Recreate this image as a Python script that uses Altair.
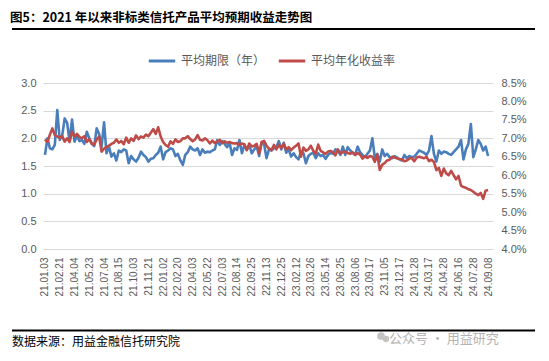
import altair as alt
import pandas as pd

# ---- data ----
tick_labels = ["21.01.03", "21.02.21", "21.04.04", "21.05.23", "21.07.04", "21.08.15",
               "21.10.03", "21.11.21", "22.01.02", "22.02.20", "22.04.03", "22.05.22",
               "22.07.03", "22.08.14", "22.09.25", "22.11.13", "22.12.25", "23.02.12",
               "23.03.26", "23.05.14", "23.06.25", "23.08.06", "23.09.17", "23.11.05",
               "23.12.17", "24.01.28", "24.03.17", "24.04.28", "24.06.16", "24.07.28",
               "24.09.08"]

term_years = [
    1.70, 2.00, 1.82, 1.80, 1.88, 2.51, 1.97, 2.05, 2.36, 2.28,
    1.95, 2.34, 1.94, 2.05, 1.95, 1.97, 1.90, 2.12, 2.00, 1.90,
    1.86, 2.18, 2.08, 1.85, 2.29, 1.73, 1.85, 1.67, 1.73, 1.60,
    1.78, 1.75, 1.80, 1.78, 1.55, 1.68, 1.62, 1.58, 1.65, 1.76,
    1.70, 1.66, 1.58, 1.63, 1.64, 1.70, 1.74, 1.85, 1.62, 1.75,
    1.78, 1.82, 1.80, 1.68, 1.72, 1.60, 1.52, 1.70, 1.75, 1.85,
    1.80, 1.78, 1.82, 1.70, 1.80, 1.74, 1.76, 1.75, 1.78, 1.80,
    1.97, 1.88, 1.95, 1.90, 1.84, 1.92, 1.70, 1.82, 1.79, 1.97,
    1.73, 1.88, 1.79, 1.88, 1.73, 1.80, 1.86, 1.68, 1.92, 1.90,
    1.64, 1.80, 1.78, 1.82, 1.84, 1.95, 1.80, 1.92, 1.74, 1.80,
    1.67, 1.73, 1.66, 1.62, 1.76, 1.73, 1.55, 1.68, 1.72, 1.74,
    1.64, 1.73, 1.68, 1.70, 1.63, 1.70, 1.74, 1.72, 1.80, 1.78,
    1.70, 1.85, 1.70, 1.84, 1.78, 1.74, 1.70, 1.85, 1.75, 1.70,
    1.66, 1.72, 1.78, 2.00, 1.65, 1.72, 1.58, 1.80, 1.68, 1.72,
    1.66, 1.64, 1.68, 1.65, 1.62, 1.60, 1.70, 1.64, 1.68, 1.66,
    1.67, 1.72, 1.78, 1.76, 1.74, 1.70, 1.78, 2.04, 1.72, 1.58,
    1.78, 1.72, 1.76, 1.75, 1.72, 1.70, 1.75, 1.80, 1.85, 1.97,
    1.62, 1.80, 1.90, 2.26, 1.66, 1.80, 1.97, 1.90, 1.78, 1.85,
    1.68,
]

yield_pct = [
    6.97, 6.90, 7.10, 7.27, 7.09, 7.05, 7.02, 7.06, 6.91, 7.00,
    6.90, 7.18, 7.05, 7.12, 7.04, 7.00, 7.06, 6.90, 6.98, 6.86,
    6.83, 6.97, 7.05, 6.64, 6.72, 6.76, 6.80, 6.85, 6.88, 6.97,
    6.88, 6.93, 6.84, 7.02, 6.88, 7.00, 6.93, 7.08, 6.98, 7.05,
    7.02, 7.10, 7.06, 7.15, 7.25, 7.12, 7.30, 7.05, 6.90, 6.82,
    6.77, 6.92, 6.85, 6.97, 6.90, 6.92, 7.00, 7.00, 7.06, 6.98,
    6.92, 6.97, 7.09, 6.96, 6.94, 7.00, 6.95, 6.86, 6.94, 6.87,
    6.92, 6.96, 6.87, 6.92, 6.88, 6.90, 6.87, 6.86, 6.87, 6.82,
    6.86, 6.84, 6.68, 6.86, 6.78, 6.80, 6.85, 6.59, 6.90, 6.93,
    6.80, 6.72, 6.68, 6.82, 6.70, 6.82, 6.74, 6.85, 6.70, 6.76,
    6.68, 6.75, 6.80, 6.86, 6.50, 6.75, 6.66, 6.70, 6.80, 6.66,
    6.58, 6.83, 6.66, 6.62, 6.58, 6.64, 6.66, 6.62, 6.54, 6.70,
    6.59, 6.62, 6.64, 6.60, 6.58, 6.62, 6.55, 6.60, 6.56, 6.45,
    6.52, 6.47, 6.52, 6.50, 6.36, 6.56, 6.14, 6.28, 6.33, 6.40,
    6.42, 6.50, 6.48, 6.46, 6.44, 6.43, 6.38, 6.40, 6.45, 6.47,
    6.38, 6.48, 6.50, 6.48, 6.46, 6.50, 6.38, 6.42, 6.36, 6.14,
    6.20, 5.98, 6.18, 6.05, 6.00, 6.12, 6.00, 5.89, 5.98, 5.72,
    5.68, 5.66, 5.62, 5.60, 5.55, 5.50, 5.46, 5.52, 5.36, 5.58,
    5.60,
]

series_names = ["平均期限（年）", "平均年化收益率"]
series_colors = ["#4A7EBB", "#BE4B48"]
title_text = "图5：2021 年以来非标类信托产品平均预期收益走势图"
source_text = "数据来源：用益金融信托研究院"
watermark_text = "公众号 · 用益研究"

left_ticks = [0.0, 0.5, 1.0, 1.5, 2.0, 2.5, 3.0]
right_ticks = [4.0, 4.5, 5.0, 5.5, 6.0, 6.5, 7.0, 7.5, 8.0, 8.5]
label_step = 6

# ---- build tables ----
n = len(term_years)
df_term = pd.DataFrame({"idx": list(range(n)), "v": term_years, "series": series_names[0]})
df_yield = pd.DataFrame({"idx": list(range(len(yield_pct))), "v": yield_pct, "series": series_names[1]})

FONT = "Noto Sans CJK SC"
GREY = "#595959"

label_arr = "[" + ",".join("'" + s + "'" for s in tick_labels) + "]"
x_values = [i * label_step for i in range(len(tick_labels))]

xscale = alt.Scale(domain=[-0.8, 182.0], nice=False, zero=False)
color_scale = alt.Scale(domain=series_names, range=series_colors)

x_axis = alt.Axis(values=x_values, labelExpr=label_arr + "[round(datum.value/" + str(label_step) + ")]",
                  labelAngle=270, labelAlign="right", labelBaseline="middle",
                  labelPadding=8, labelFontSize=10, labelColor=GREY, labelFont="Liberation Sans",
                  ticks=False, domain=False, grid=False, labelOverlap=False, labelFlush=False,
                  labelBound=False)

left = alt.Chart(df_term).mark_line(strokeWidth=2.6, strokeJoin="round").encode(
    x=alt.X("idx:Q", scale=xscale, title=None, axis=x_axis),
    y=alt.Y("v:Q", scale=alt.Scale(domain=[0, 3], nice=False), title=None,
            axis=alt.Axis(values=left_ticks, format=".1f", grid=True, gridColor="#D9D9D9",
                          gridWidth=1, domain=False, ticks=False, labelPadding=7,
                          labelFontSize=11, labelColor=GREY, labelFont="Liberation Sans")),
    color=alt.Color("series:N", scale=color_scale,
                    legend=alt.Legend(title=None, orient="none", direction="horizontal",
                                      legendX=104, legendY=-37, symbolType="stroke",
                                      symbolStrokeWidth=3, symbolSize=700, labelFontSize=12,
                                      labelColor=GREY, labelFont=FONT, columnPadding=6,
                                      labelOffset=4)),
)

right = alt.Chart(df_yield).mark_line(strokeWidth=2.6, strokeJoin="round").encode(
    x=alt.X("idx:Q", scale=xscale, title=None, axis=x_axis),
    y=alt.Y("v:Q", scale=alt.Scale(domain=[4, 8.5], nice=False), title=None,
            axis=alt.Axis(orient="right", values=right_ticks,
                          labelExpr="format(datum.value, '.1f') + '%'",
                          grid=False, domain=False, ticks=False, labelPadding=8,
                          labelFontSize=11, labelColor=GREY, labelFont="Liberation Sans")),
    color=alt.Color("series:N", scale=color_scale),
)

deco_df = pd.DataFrame({"a": [0]})
base = alt.Chart(deco_df)

title_mark = base.mark_text(align="left", baseline="alphabetic", fontSize=12.5,
                            fontWeight="bold", font=FONT, color="#000000").encode(
    x=alt.value(-33), y=alt.value(-61), text=alt.value(title_text))
top_rule = base.mark_rule(color="#000000", strokeWidth=2).encode(
    x=alt.value(-31), x2=alt.value(492), y=alt.value(-54))
bottom_rule = base.mark_rule(color="#000000", strokeWidth=2).encode(
    x=alt.value(-31), x2=alt.value(492), y=alt.value(247.5))
source_mark = base.mark_text(align="left", baseline="alphabetic", fontSize=12,
                             font=FONT, color="#000000").encode(
    x=alt.value(-31), y=alt.value(263), text=alt.value(source_text))
wm_mark = base.mark_text(align="left", baseline="alphabetic", fontSize=13,
                         font=FONT, color="#B4B4B4").encode(
    x=alt.value(346), y=alt.value(259.5), text=alt.value(watermark_text))
wm_icon1 = base.mark_point(filled=True, shape="circle", size=60, color="#C4C4C4", opacity=1).encode(
    x=alt.value(338), y=alt.value(253))
wm_icon2 = base.mark_point(filled=True, shape="circle", size=40, color="#C4C4C4", opacity=1).encode(
    x=alt.value(343), y=alt.value(256))

chart = alt.layer(left, right, title_mark, top_rule, bottom_rule, source_mark,
                  wm_icon1, wm_icon2, wm_mark).resolve_scale(
    y="independent"
).properties(
    width=450, height=166,
    autosize=alt.AutoSizeParams(type="none"),
    padding={"left": 35, "top": 75, "right": 48, "bottom": 103},
    background="#FFFFFF",
).configure_view(stroke=None)

chart.save("out.html", embed_options={"renderer": "svg", "actions": False})
